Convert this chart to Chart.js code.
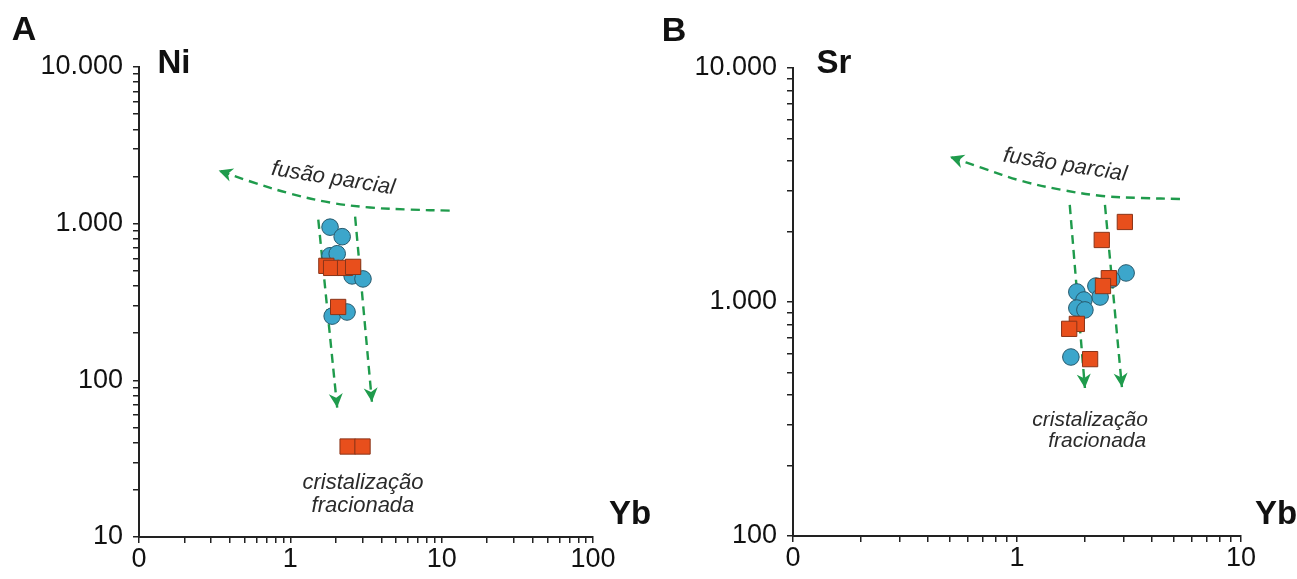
<!DOCTYPE html>
<html><head><meta charset="utf-8">
<script src="https://cdn.jsdelivr.net/npm/chart.js@4.4.1/dist/chart.umd.min.js"></script>
<style>
html,body{margin:0;padding:0;background:#fff;}
#wrap{position:relative;width:1297px;height:579px;overflow:hidden;background:#fff;}
canvas{position:absolute;top:0;}
</style></head><body>
<div id="wrap">
<canvas id="cA" width="700" height="579" style="left:0px"></canvas>
<canvas id="cB" width="649" height="579" style="left:648px"></canvas>
</div>
<script>
// ---------- Panel A: Ni vs Yb ----------
const ybCirclesA = [1.83, 2.20, 1.83, 2.04, 2.56, 3.02, 1.89, 2.37];
const niCirclesA = [950, 826, 624, 643, 464, 444, 257, 273];
const ybSquaresA = [1.73, 1.86, 2.30, 2.60, 2.07, 2.39, 3.00];
const niSquaresA = [538, 522, 522, 530, 294, 37.8, 37.8];
// guide lines (fusão parcial curve, from right end to arrow tip; two crystallisation arrows)
const meltCurveA_x = [11.3, 6.16, 3.36, 1.83, 1.0, 0.545, 0.336];
const meltCurveA_y = [1211, 1230, 1268, 1364, 1556, 1858, 2188];
const fracLeftA_x = [1.53, 2.04];
const fracLeftA_y = [1061, 67];
const fracRightA_x = [2.68, 3.46];
const fracRightA_y = [1109, 73];
const xTickValsA = [0.1, 1, 10, 100];
const xTickLabelsA = ['0', '1', '10', '100'];
const yTickValsA = [10, 100, 1000, 10000];
const yTickLabelsA = ['10', '100', '1.000', '10.000'];

// ---------- Panel B: Sr vs Yb ----------
const ybCirclesB = [3.07, 2.25, 2.65, 2.35, 1.85, 1.99, 1.85, 2.01, 1.74];
const srCirclesB = [1331, 1170, 1250, 1050, 1104, 1020, 942, 925, 582];
const ybSquaresB = [3.03, 2.39, 2.57, 2.42, 1.85, 1.71, 2.12];
const srSquaresB = [2198, 1841, 1264, 1170, 806, 768, 570];
const meltCurveB_x = [5.34, 3.61, 2.40, 1.59, 1.05, 0.698, 0.502];
const meltCurveB_y = [2756, 2782, 2838, 3012, 3289, 3741, 4171];
const fracLeftB_x = [1.72, 2.01];
const fracLeftB_y = [2600, 429];
const fracRightB_x = [2.47, 2.94];
const fracRightB_y = [2600, 433];
const xTickValsB = [0.1, 1, 10];
const xTickLabelsB = ['0', '1', '10'];
const yTickValsB = [100, 1000, 10000];
const yTickLabelsB = ['100', '1.000', '10.000'];

// ---------- helpers ----------
function pts(xs, ys) { return xs.map((x, i) => ({x: x, y: ys[i]})); }
function decadeTicks(min, max) {
  const out = [];
  const k0 = Math.round(Math.log10(min)), k1 = Math.round(Math.log10(max));
  for (let k = k0; k < k1; k++) {
    for (let m = 1; m <= 9; m++) out.push(parseFloat((m * Math.pow(10, k)).toPrecision(6)));
  }
  out.push(max);
  return out;
}
function labelFor(v, vals, labels) {
  for (let i = 0; i < vals.length; i++) if (Math.abs(v - vals[i]) / vals[i] < 1e-6) return labels[i];
  return '';
}

const GREEN = '#1f9b4c';
const FONT = "'Liberation Sans', Arial, sans-serif";
Chart.defaults.font.family = FONT;

const deco = {
  id: 'deco',
  afterDatasetsDraw(chart, args, opts) {
    const ctx = chart.ctx;
    const xs = chart.scales.x, ys = chart.scales.y;
    ctx.save();
    // arrowheads at the last point of each guide line
    opts.arrows.forEach(idx => {
      const d = chart.getDatasetMeta(idx).data;
      const a = d[d.length - 2], b = d[d.length - 1];
      const ang = Math.atan2(b.y - a.y, b.x - a.x);
      const L = 14, W = 7;
      ctx.fillStyle = GREEN;
      ctx.beginPath();
      ctx.moveTo(b.x, b.y);
      ctx.lineTo(b.x - L * Math.cos(ang) + W * Math.sin(ang), b.y - L * Math.sin(ang) - W * Math.cos(ang));
      ctx.lineTo(b.x - 0.7 * L * Math.cos(ang), b.y - 0.7 * L * Math.sin(ang));
      ctx.lineTo(b.x - L * Math.cos(ang) - W * Math.sin(ang), b.y - L * Math.sin(ang) + W * Math.cos(ang));
      ctx.closePath();
      ctx.fill();
    });
    // annotation texts in data space
    opts.notes.forEach(t => {
      const px = xs.getPixelForValue(t.x), py = ys.getPixelForValue(t.y);
      ctx.save();
      ctx.translate(px, py);
      ctx.rotate((t.rot || 0) * Math.PI / 180);
      ctx.font = t.font;
      ctx.fillStyle = '#2b2b2b';
      ctx.textAlign = 'center';
      ctx.textBaseline = 'middle';
      ctx.fillText(t.text, 0, 0);
      ctx.restore();
    });
    // titles (panel letter, axis names)
    opts.titles.forEach(t => {
      ctx.font = t.font;
      ctx.fillStyle = '#111';
      ctx.textAlign = 'center';
      ctx.textBaseline = 'middle';
      ctx.fillText(t.text, t.px, t.py);
    });
    ctx.restore();
  }
};

function makeChart(id, cfg) {
  const lineDs = (data) => ({
    data: data, showLine: true, pointRadius: 0, borderColor: GREEN, borderWidth: 2.4,
    borderDash: [9, 6], tension: 0.35, fill: false
  });
  return new Chart(document.getElementById(id), {
    type: 'scatter',
    data: {
      datasets: [
        { data: cfg.squares, pointStyle: 'rect', pointRadius: 10.8, backgroundColor: '#e84f1c', borderColor: '#8a3418', borderWidth: 1 },
        { data: cfg.circles, pointStyle: 'circle', pointRadius: 8.3, backgroundColor: '#3ca6cb', borderColor: '#27596c', borderWidth: 1 },
        lineDs(cfg.curve),
        lineDs(cfg.left),
        lineDs(cfg.right)
      ]
    },
    options: {
      responsive: false, animation: false, events: [],
      layout: { padding: cfg.padding },
      plugins: {
        legend: { display: false }, tooltip: { enabled: false },
        deco: { arrows: [2, 3, 4], notes: cfg.notes, titles: cfg.titles }
      },
      scales: {
        x: {
          type: 'logarithmic', position: 'bottom', min: cfg.xMin, max: cfg.xMax,
          afterBuildTicks: s => { s.ticks = decadeTicks(cfg.xMin, cfg.xMax).map(v => ({value: v})); },
          afterFit: s => { s.height = cfg.xAxisH; },
          grid: { drawOnChartArea: false, drawTicks: true, tickLength: 6, color: '#222', lineWidth: 1.5 },
          border: { display: true, color: '#222', width: 2 },
          ticks: { autoSkip: false, maxRotation: 0, padding: 0, color: '#111', font: { size: 27 },
                   callback: v => labelFor(v, cfg.xTickVals, cfg.xTickLabels) }
        },
        y: {
          type: 'logarithmic', position: 'left', min: cfg.yMin, max: cfg.yMax,
          afterBuildTicks: s => { s.ticks = decadeTicks(cfg.yMin, cfg.yMax).map(v => ({value: v})); },
          afterFit: s => { s.width = cfg.yAxisW; },
          grid: { drawOnChartArea: false, drawTicks: true, tickLength: 6, color: '#222', lineWidth: 1.5 },
          border: { display: true, color: '#222', width: 2 },
          ticks: { autoSkip: false, padding: 10, color: '#111', font: { size: 27 },
                   callback: v => labelFor(v, cfg.yTickVals, cfg.yTickLabels) }
        }
      }
    },
    plugins: [deco]
  });
}

makeChart('cA', {
  squares: pts(ybSquaresA, niSquaresA), circles: pts(ybCirclesA, niCirclesA),
  curve: pts(meltCurveA_x, meltCurveA_y), left: pts(fracLeftA_x, fracLeftA_y), right: pts(fracRightA_x, fracRightA_y),
  xMin: 0.1, xMax: 100, yMin: 10, yMax: 10000,
  xTickVals: xTickValsA, xTickLabels: xTickLabelsA, yTickVals: yTickValsA, yTickLabels: yTickLabelsA,
  padding: { left: 0, top: 67, right: 107, bottom: 0 }, yAxisW: 139, xAxisH: 42,
  notes: [
    { text: 'fusão parcial', x: 1.92, y: 1941, rot: 9, font: "italic 22px " + FONT },
    { text: 'cristalização', x: 3.02, y: 22.2, font: "italic 22px " + FONT },
    { text: 'fracionada', x: 3.02, y: 15.8, font: "italic 22px " + FONT }
  ],
  titles: [
    { text: 'A', px: 24, py: 31, font: "bold 34px " + FONT },
    { text: 'Ni', px: 174, py: 64, font: "bold 33px " + FONT },
    { text: 'Yb', px: 630, py: 515, font: "bold 33px " + FONT }
  ]
});

makeChart('cB', {
  squares: pts(ybSquaresB, srSquaresB), circles: pts(ybCirclesB, srCirclesB),
  curve: pts(meltCurveB_x, meltCurveB_y), left: pts(fracLeftB_x, fracLeftB_y), right: pts(fracRightB_x, fracRightB_y),
  xMin: 0.1, xMax: 10, yMin: 100, yMax: 10000,
  xTickVals: xTickValsB, xTickLabels: xTickLabelsB, yTickVals: yTickValsB, yTickLabels: yTickLabelsB,
  padding: { left: 0, top: 68, right: 56, bottom: 0 }, yAxisW: 145, xAxisH: 43,
  notes: [
    { text: 'fusão parcial', x: 1.64, y: 3846, rot: 9, font: "italic 22px " + FONT },
    { text: 'cristalização', x: 2.12, y: 313, font: "italic 21px " + FONT },
    { text: 'fracionada', x: 2.28, y: 255, font: "italic 21px " + FONT }
  ],
  titles: [
    { text: 'B', px: 26, py: 32, font: "bold 34px " + FONT },
    { text: 'Sr', px: 186, py: 64, font: "bold 33px " + FONT },
    { text: 'Yb', px: 628, py: 515, font: "bold 33px " + FONT }
  ]
});
</script>
</body></html>
